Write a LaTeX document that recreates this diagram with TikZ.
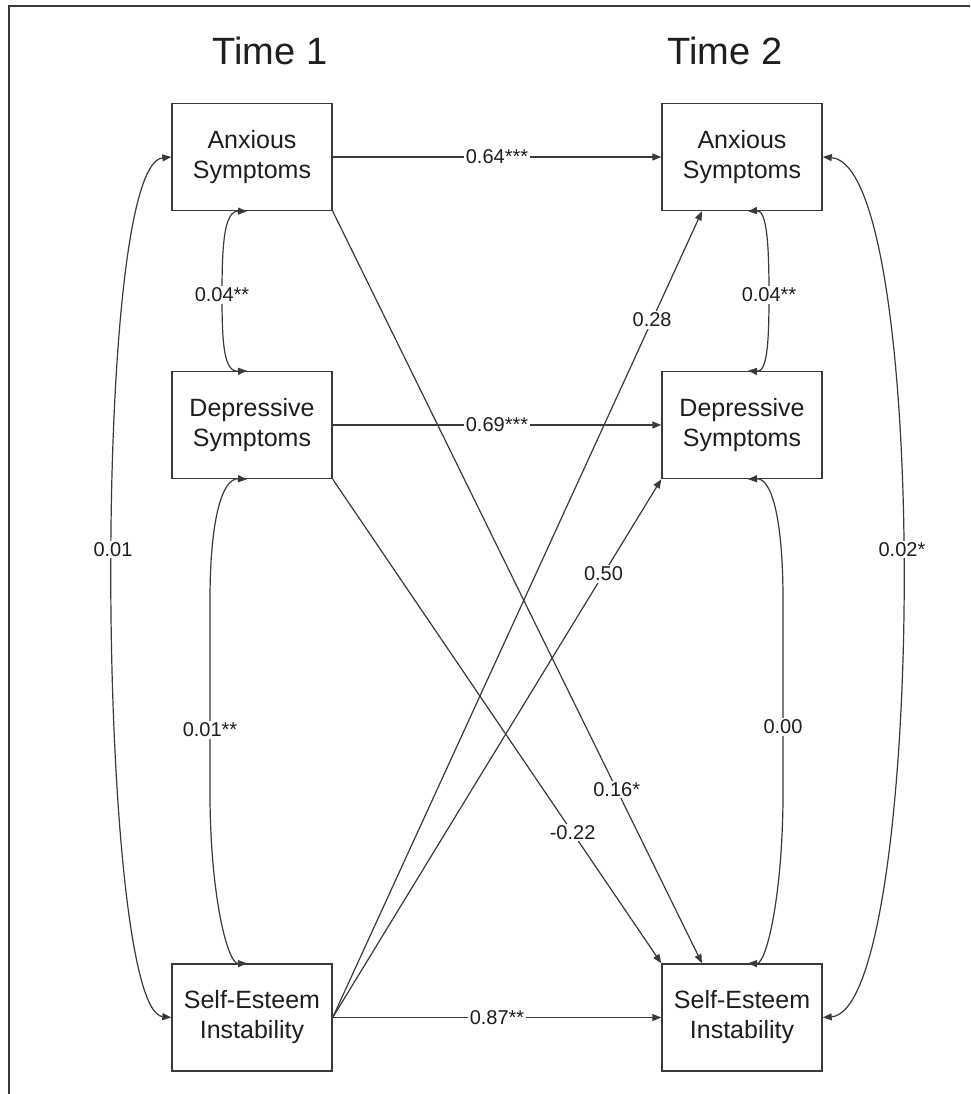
\documentclass[tikz,border=0pt]{standalone}
\usepackage{fontspec}
\setmainfont{Liberation Sans}
\usetikzlibrary{arrows.meta}
\definecolor{ln}{HTML}{3A3A3A}
\definecolor{tx}{HTML}{1E1E1E}
\begin{document}
\begin{tikzpicture}[x=1pt,y=-1pt,
  box/.style={draw=ln, line width=1.4pt, minimum width=160pt, minimum height=107pt, align=center, font=\fontsize{25}{30}\selectfont, text=tx, inner sep=0pt},
  title/.style={font=\fontsize{38}{44}\selectfont, text=tx, anchor=base},
  lbl/.style={fill=white, font=\fontsize{20}{24}\selectfont, text=tx, inner sep=1.5pt},
  conn/.style={draw=ln, line width=1.2pt, -{Triangle[length=9pt,width=7pt]}},
  biconn/.style={draw=ln, line width=1.2pt, {Triangle[length=9pt,width=7pt]}-{Triangle[length=9pt,width=7pt]}},
]
\useasboundingbox (0,0) rectangle (970,1094);
\fill[white] (0,0) rectangle (970,1094);
\draw[ln, line width=2pt] (9,1094) -- (9,6) -- (970,6);

\node[title] (h1) at (270,65) {Time 1};
\node[title] (h2) at (725,65) {Time 2};

\node[box] (t1a) at (252,157) {Anxious\\Symptoms};
\node[box] (t1d) at (252,425) {Depressive\\Symptoms};
\node[box] (t1s) at (252,1017.5) {Self-Esteem\\Instability};
\node[box] (t2a) at (742,157) {Anxious\\Symptoms};
\node[box] (t2d) at (742,425) {Depressive\\Symptoms};
\node[box] (t2s) at (742,1017.5) {Self-Esteem\\Instability};

% diagonals
\draw[conn] (t1a.south east) -- node[lbl,pos=0.769]{0.16*} ([xshift=-40pt]t2s.north);
\draw[conn] (t1d.south east) -- node[lbl,pos=0.73]{-0.22} (t2s.north west);
\draw[conn] (t1s.east) -- node[lbl,pos=0.865]{0.28} ([xshift=-40pt]t2a.south);
\draw[conn] (t1s.east) -- node[lbl,pos=0.824]{0.50} (t2d.south west);

% horizontals
\draw[conn] (t1a.east) -- node[lbl]{0.64***} (t2a.west);
\draw[conn] (t1d.east) -- node[lbl]{0.69***} (t2d.west);
\draw[conn] (t1s.east) -- node[lbl]{0.87**} (t2s.west);

% covariances, time 1
\draw[biconn] (t1a.west) .. controls (90,165) and (97,1010) .. node[lbl,pos=0.47]{0.01} (t1s.west);
\draw[biconn] ([xshift=-5pt]t1a.south) .. controls (224,211) and (222,245) .. (222,295) node[lbl]{0.04**} .. controls (222,345) and (224,372) .. ([xshift=-5pt]t1d.north);
\draw[biconn] ([xshift=-5pt]t1d.south) .. controls (222,478) and (210,520) .. (210,600) -- node[lbl,pos=0.65]{0.01**} (210,800) .. controls (211,900) and (228,964) .. ([xshift=-5pt]t1s.north);

% covariances, time 2
\draw[biconn] (t2a.east) .. controls (932,165) and (925,1010) .. node[lbl,pos=0.47]{0.02*} (t2s.east);
\draw[biconn] ([xshift=6pt]t2a.south) .. controls (767,210) and (769,245) .. (769,295) node[lbl]{0.04**} .. controls (769,345) and (767,372) .. ([xshift=6pt]t2d.north);
\draw[biconn] ([xshift=6pt]t2d.south) .. controls (772,478) and (783,520) .. (783,600) -- node[lbl,pos=0.635]{0.00} (783,800) .. controls (782,900) and (766,964) .. ([xshift=6pt]t2s.north);
\end{tikzpicture}
\end{document}
